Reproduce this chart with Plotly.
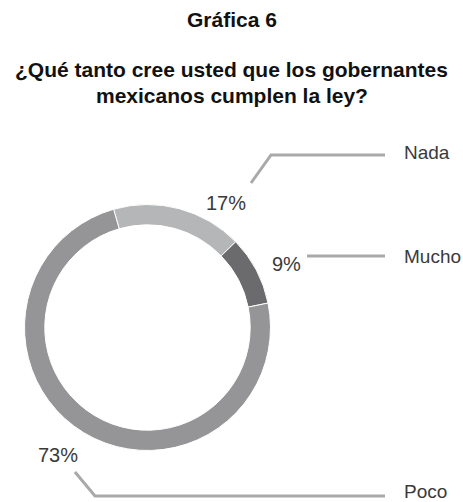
import plotly.graph_objects as go

categories = ["Nada", "Mucho", "Poco"]
values = [17, 9, 73]
pct_labels = ["17%", "9%", "73%"]
colors = ["#b4b6b8", "#6b6b6d", "#959598"]

W, H = 463, 502

def px(x):
    return x / W

def py(y):
    return 1 - y / H

cx, cy, r = 147.5, 327.5, 123

fig = go.Figure(go.Pie(
    labels=categories,
    values=values,
    hole=0.835,
    sort=False,
    direction="clockwise",
    rotation=-16,
    marker=dict(colors=colors, line=dict(color="white", width=1)),
    textinfo="none",
    hoverinfo="label+percent",
    showlegend=False,
    domain=dict(x=[px(cx - r), px(cx + r)], y=[py(cy + r), py(cy - r)]),
))

line_col = "#a9a9ab"
lines = [
    [(251, 183), (271, 155), (385, 155)],
    [(307, 256), (385, 256)],
    [(75, 472), (95, 496), (385, 496)],
]
shapes = []
for pts in lines:
    path = "M " + " L ".join(f"{px(x)},{py(y)}" for x, y in pts)
    shapes.append(dict(type="path", xref="paper", yref="paper", path=path,
                       line=dict(color=line_col, width=3)))

pct_font = dict(family="Liberation Sans, Arial, sans-serif", size=20, color="#3a3a3a")
cat_font = dict(family="Liberation Sans, Arial, sans-serif", size=19, color="#3a3a3a")
ann = []
pct_pos = [(226, 203), (286, 264), (58, 455)]
for t, (x, y) in zip(pct_labels, pct_pos):
    ann.append(dict(text=t, x=px(x), y=py(y), xref="paper", yref="paper",
                    showarrow=False, xanchor="center", yanchor="middle", font=pct_font))
cat_pos = [(402, 153), (402, 256), (402, 491)]
for t, (x, y) in zip(categories, cat_pos):
    ann.append(dict(text=t, x=px(x), y=py(y), xref="paper", yref="paper",
                    showarrow=False, xanchor="left", yanchor="middle", font=cat_font))

title_font = dict(family="Liberation Sans, Arial, sans-serif", size=21, color="#111111")
titles = [("Gráfica 6", 20), ("¿Qué tanto cree usted que los gobernantes", 69),
          ("mexicanos cumplen la ley?", 95)]
for t, y in titles:
    ann.append(dict(text=f"<b>{t}</b>", x=0.5, y=py(y), xref="paper", yref="paper",
                    showarrow=False, xanchor="center", yanchor="middle", font=title_font))

fig.update_layout(
    width=W, height=H,
    margin=dict(l=0, r=0, t=0, b=0),
    paper_bgcolor="white", plot_bgcolor="white",
    shapes=shapes, annotations=ann,
)

fig.write_html("out.html", config={"displayModeBar": False},
               post_script="document.body.style.margin='0';document.body.style.overflow='hidden';")
